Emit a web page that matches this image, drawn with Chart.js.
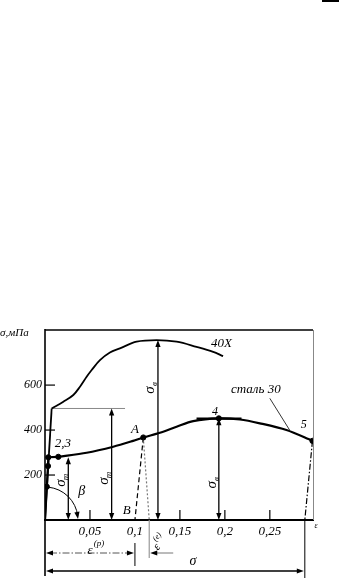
<!DOCTYPE html>
<html><head><meta charset="utf-8">
<script src="https://cdn.jsdelivr.net/npm/chart.js@4"></script>
<style>html,body{margin:0;padding:0;background:#fff;}#wrap{width:339px;height:578px;position:relative;}</style>
</head><body><div id="wrap"><canvas id="c"></canvas></div>
<script>
// ---- axis ticks ----
const xTicks = [0.05, 0.1, 0.15, 0.2, 0.25];
const xTickLabels = ['0,05', '0,1', '0,15', '0,2', '0,25'];
const yTicks = [200, 400, 600];
const yTickLabels = ['200', '400', '600'];

// ---- 40X ----
const strain40XElastic = [0, 0.0074];
const stress40XElastic = [0, 496];
const strain40X = [0.0074, 0.0204, 0.0315, 0.0389, 0.0463, 0.0519, 0.0611, 0.0722, 0.0833, 0.1019, 0.1241, 0.1463, 0.1685, 0.187, 0.198];
const stress40X = [496, 526, 556, 593, 637, 667, 711, 745, 763, 793, 800, 793, 770, 748, 729];
const strain40XYield = [0.0074, 0.089];
const stress40XYield = [496, 496];

// ---- сталь 30 ----
const strain30Elastic = [0, 0.002, 0.0033, 0.0037, 0.0148];
const stress30Elastic = [0, 148, 240, 279, 281];
const strain30 = [0.0148, 0.0463, 0.0759, 0.098, 0.1093, 0.1278, 0.1463, 0.1648, 0.1933, 0.2167, 0.2389, 0.2685, 0.2974];
const stress30 = [281, 299, 326, 352, 367, 388, 415, 440, 452, 447, 430, 400, 352];
const pointStrain = [0.002, 0.0033, 0.0037, 0.0148, 0.1093, 0.1933, 0.2974];
const pointStress = [148, 240, 279, 281, 367, 452, 352];
const strainTangent4 = [0.1685, 0.2185];
const stressTangent4 = [451, 451];

// ---- unloading ----
const strainUnloadA = [0.1093, 0.1];
const stressUnloadA = [367, 0];
const strainElasticA = [0.1093, 0.1159];
const stressElasticA = [367, 0];
const strainUnload5 = [0.2974, 0.2889];
const stressUnload5 = [352, 0];
const strainLeader = [0.25, 0.272];
const stressLeader = [541, 400];

const pts = (xs, ys) => xs.map((v, i) => ({x: v, y: ys[i]}));
const SERIF = '"Liberation Serif","DejaVu Serif",serif';

function seg(xs, ys, o) {
  return Object.assign({data: pts(xs, ys), borderColor: '#000', borderWidth: 1.8, pointRadius: 0, tension: 0, fill: false}, o || {});
}

const ann = {
  id: 'ann',
  afterDraw(chart) {
    const {ctx, chartArea: a} = chart;
    const xs = chart.scales.x, ys = chart.scales.y;
    const X = v => xs.getPixelForValue(v), Y = v => ys.getPixelForValue(v);
    ctx.save();
    const line = (x1, y1, x2, y2) => { ctx.beginPath(); ctx.moveTo(x1, y1); ctx.lineTo(x2, y2); ctx.stroke(); };
    const head = (px, py, dx, dy) => {
      const L = 7, W = 2.6, nx = -dy, ny = dx;
      ctx.beginPath(); ctx.moveTo(px, py);
      ctx.lineTo(px - dx * L + nx * W, py - dy * L + ny * W);
      ctx.lineTo(px - dx * L - nx * W, py - dy * L - ny * W);
      ctx.closePath(); ctx.fill();
    };
    const text = (s, px, py, size, rot, align) => {
      ctx.save(); ctx.translate(px, py); if (rot) ctx.rotate(rot);
      ctx.font = 'italic ' + (size || 13) + 'px ' + SERIF;
      ctx.textAlign = align || 'center'; ctx.textBaseline = 'middle';
      ctx.fillText(s, 0, 0); ctx.restore();
    };
    const sigmaSub = (sub, px, py) => {
      ctx.save(); ctx.translate(px, py); ctx.rotate(-Math.PI / 2);
      ctx.font = 'italic 15px ' + SERIF; ctx.textAlign = 'center'; ctx.textBaseline = 'middle';
      ctx.fillText('σ', 0, 0);
      ctx.font = 'italic 9px ' + SERIF; ctx.fillText(sub, 6, 5);
      ctx.restore();
    };
    ctx.fillStyle = '#000'; ctx.strokeStyle = '#000';

    // frame
    ctx.lineWidth = 1.5; line(a.left, a.top, a.right, a.top);
    ctx.strokeStyle = '#888'; ctx.lineWidth = 1; line(a.right + 0.5, a.top, a.right + 0.5, a.bottom);
    ctx.strokeStyle = '#000'; ctx.lineWidth = 1.6; line(a.left, a.top - 1, a.left, a.bottom + 56);
    // inner ticks
    ctx.lineWidth = 1.2;
    [0.05, 0.15, 0.2, 0.25].forEach(v => line(X(v), a.bottom, X(v), a.bottom - 10));
    yTicks.forEach(v => line(a.left, Y(v), a.left + 10, Y(v)));

    // vertical dimension arrows
    const vArrow = (sx, top) => {
      const px = X(sx), t = Y(top), b = a.bottom;
      ctx.lineWidth = 1.3; line(px, t + 4, px, b - 4);
      head(px, t, 0, -1); head(px, b, 0, 1);
    };
    vArrow(0.0259, 279);
    vArrow(0.0741, 496);
    vArrow(0.1256, 800);
    vArrow(0.1933, 452);

    // beta arc
    ctx.lineWidth = 1;
    const cx = X(0), cy = Y(0), r = 33;
    ctx.beginPath(); ctx.arc(cx, cy, r, -1.47, -0.12); ctx.stroke();
    head(cx + r, cy - 1, 0.15, 1);

    // labels in plot
    text('40X', X(0.1963), Y(785), 13);
    text('сталь 30', X(0.2344), Y(578), 13);
    text('4', X(0.189), Y(481), 12);
    text('5', X(0.2878), Y(422), 12);
    text('A', X(0.1), Y(400), 13);
    text('2,3', X(0.02), Y(338), 13);
    text('B', X(0.0908), Y(40), 13);
    text('β', X(0.0408), Y(126), 14);
    sigmaSub('т', X(0.0178), Y(164));
    sigmaSub('т', X(0.0656), Y(173));
    sigmaSub('в', X(0.1167), Y(578));
    sigmaSub('в', X(0.1856), Y(156));
    text('σ,мПа', 0, a.top + 3, 11, 0, 'left');
    text('ε', a.right + 3, a.bottom + 6, 8);

    // strain dimensions below the axis
    const yP = a.bottom + 33, yT = a.bottom + 51;
    ctx.strokeStyle = '#555'; ctx.lineWidth = 1; ctx.setLineDash([7, 2, 1.5, 2]);
    line(X(0) + 5, yP, X(0.1) - 5, yP);
    ctx.setLineDash([]);
    head(X(0) + 1, yP, -1, 0); head(X(0.1) - 1, yP, 1, 0);
    ctx.strokeStyle = '#000'; line(X(0.1), a.bottom + 23, X(0.1), a.bottom + 46);
    ctx.strokeStyle = '#999'; ctx.lineWidth = 1.2; line(X(0.1159), a.bottom, X(0.1159), a.bottom + 38);
    ctx.strokeStyle = '#777'; ctx.lineWidth = 1; line(X(0.1159) + 5, yP, X(0.1159) + 24, yP);
    head(X(0.1159) + 1, yP, -1, 0);
    ctx.strokeStyle = '#000'; ctx.lineWidth = 1.4; line(X(0) + 5, yT, X(0.2889) - 5, yT);
    head(X(0) + 1, yT, -1, 0); head(X(0.2889) - 1, yT, 1, 0);
    ctx.lineWidth = 1; line(X(0.2889), a.bottom, X(0.2889), chart.height);
    text('ε', X(0.05), a.bottom + 31, 13);
    text('(р)', X(0.05) + 9, a.bottom + 24, 9);
    ctx.save(); ctx.translate(X(0.1244), a.bottom + 27); ctx.rotate(-0.9);
    ctx.font = 'italic 12px ' + SERIF; ctx.textAlign = 'center'; ctx.textBaseline = 'middle';
    ctx.fillText('ε', 0, 0); ctx.font = 'italic 8px ' + SERIF; ctx.fillText('(е)', 8, -6);
    ctx.restore();
    text('σ', X(0.1644), a.bottom + 41, 14);

    // scan mark top right
    ctx.fillRect(chart.width - 17, 0, 17, 2);
    ctx.restore();
  }
};

new Chart(document.getElementById('c'), {
  type: 'line',
  data: {
    datasets: [
      seg(strain40XElastic, stress40XElastic, {borderWidth: 1.8}),
      seg(strain40X, stress40X, {tension: 0.35, borderWidth: 1.8}),
      seg(strain40XYield, stress40XYield, {borderColor: '#888', borderWidth: 1}),
      seg(strain30Elastic, stress30Elastic, {borderWidth: 2.2}),
      seg(strain30, stress30, {tension: 0.3, borderWidth: 2.2}),
      seg(strainTangent4, stressTangent4, {borderWidth: 2.4}),
      seg(strainUnloadA, stressUnloadA, {borderWidth: 1.2, borderDash: [5, 3]}),
      seg(strainElasticA, stressElasticA, {borderWidth: 1.2, borderColor: '#777', borderDash: [2, 2]}),
      seg(strainUnload5, stressUnload5, {borderWidth: 1.2, borderDash: [6, 2, 1.5, 2]}),
      seg(strainLeader, stressLeader, {borderWidth: 0.8}),
      {data: pts(pointStrain, pointStress), showLine: false, pointRadius: 2.6, pointBackgroundColor: '#000', pointBorderColor: '#000', borderColor: '#000'}
    ]
  },
  options: {
    responsive: true, maintainAspectRatio: false, animation: false, devicePixelRatio: 1,
    layout: {padding: {top: 330, right: 26, left: 0, bottom: 0}},
    plugins: {legend: {display: false}, tooltip: {enabled: false}},
    scales: {
      x: {
        type: 'linear', min: 0, max: 0.298,
        afterBuildTicks: s => { s.ticks = xTicks.map(v => ({value: v})); },
        afterFit: s => { s.height = 58; },
        ticks: {callback: (v, i) => xTickLabels[i], color: '#000', padding: 4, maxRotation: 0, autoSkip: false,
                font: {family: SERIF, style: 'italic', size: 13}},
        grid: {display: false, drawTicks: false},
        border: {display: true, color: '#000', width: 2}
      },
      y: {
        type: 'linear', min: 0, max: 845,
        afterBuildTicks: s => { s.ticks = yTicks.map(v => ({value: v})); },
        afterFit: s => { s.width = 45; },
        ticks: {callback: (v, i) => yTickLabels[i], color: '#000', padding: 3,
                font: {family: SERIF, style: 'italic', size: 12}},
        grid: {display: false, drawTicks: false},
        border: {display: false}
      }
    }
  },
  plugins: [ann]
});
</script></body></html>
